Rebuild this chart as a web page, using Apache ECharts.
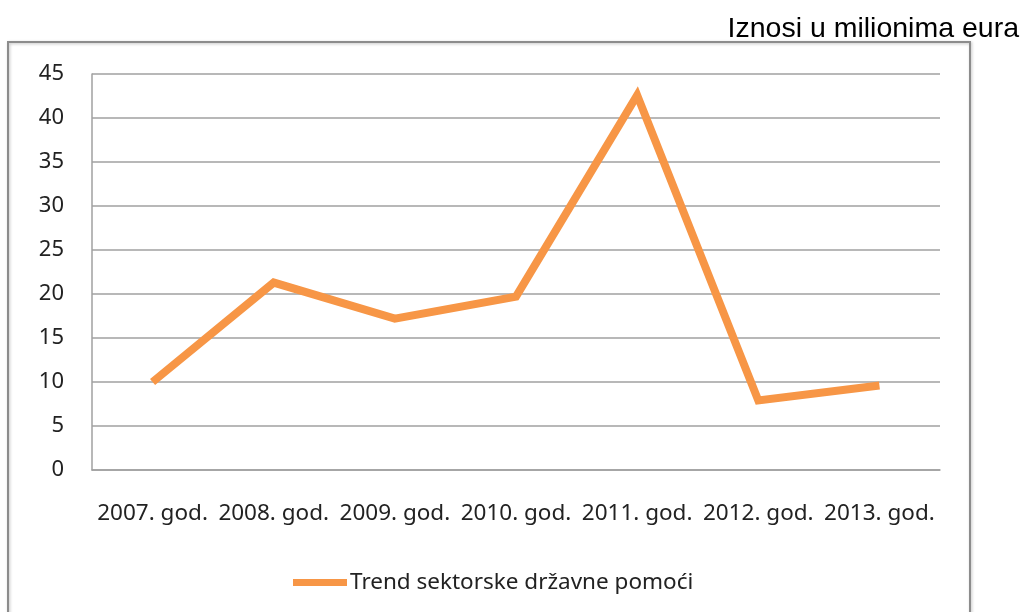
<!DOCTYPE html>
<html>
<head>
<meta charset="utf-8">
<script src="https://cdn.jsdelivr.net/npm/echarts@6/dist/echarts.min.js"></script>
<style>
  html, body { margin: 0; padding: 0; background: #fff; }
  #main { width: 1032px; height: 612px; }
</style>
</head>
<body>
<div id="main"></div>
<script>
var years = ['2007. god.', '2008. god.', '2009. god.', '2010. god.', '2011. god.', '2012. god.', '2013. god.'];
var trend = [10.0, 21.3, 17.2, 19.7, 42.6, 7.9, 9.6];
var seriesName = 'Trend sektorske državne pomoći';

var chart = echarts.init(document.getElementById('main'));

var option = {
  backgroundColor: '#fff',
  animation: false,
  title: {
    text: 'Iznosi u milionima eura',
    right: 8,
    top: 10,
    textStyle: {
      fontFamily: 'Liberation Sans',
      fontSize: 28.5,
      fontWeight: 'normal',
      color: '#000'
    }
  },
  graphic: [{
    type: 'rect',
    shape: { x: 8, y: 42, width: 962, height: 600 },
    style: { fill: 'none', stroke: '#8c8c8c', lineWidth: 2,
      shadowColor: 'rgba(0,0,0,0.25)', shadowBlur: 3, shadowOffsetX: 1, shadowOffsetY: 1 },
    z: -1
  }],
  legend: {
    data: [seriesName],
    left: 288,
    top: 566,
    icon: 'rect',
    itemWidth: 54,
    itemHeight: 7,
    itemGap: 4,
    textStyle: {
      fontFamily: 'Noto Sans',
      fontSize: 22.5,
      color: '#222',
      padding: [0, 0, 0, -2]
    }
  },
  grid: {
    left: 92,
    right: 92,
    top: 74,
    bottom: 142
  },
  xAxis: {
    type: 'category',
    data: years,
    boundaryGap: true,
    axisLine: { lineStyle: { color: '#a0a0a0', width: 1.5 } },
    axisTick: { show: false },
    axisLabel: {
      margin: 32,
      fontFamily: 'Noto Sans',
      fontSize: 22.5,
      color: '#222',
      interval: 0
    }
  },
  yAxis: {
    type: 'value',
    min: 0,
    max: 45,
    interval: 5,
    axisLine: { show: true, lineStyle: { color: '#a0a0a0', width: 1.5 } },
    axisTick: { show: false },
    splitLine: { lineStyle: { color: '#a0a0a0', width: 1.5 } },
    axisLabel: {
      margin: 28,
      fontFamily: 'Noto Sans',
      fontSize: 22,
      color: '#222'
    }
  },
  series: [{
    name: seriesName,
    type: 'line',
    data: trend,
    symbol: 'none',
    color: '#f79646',
    lineStyle: { color: '#f79646', width: 8, join: 'miter' }
  }]
};

chart.setOption(option);
</script>
</body>
</html>
